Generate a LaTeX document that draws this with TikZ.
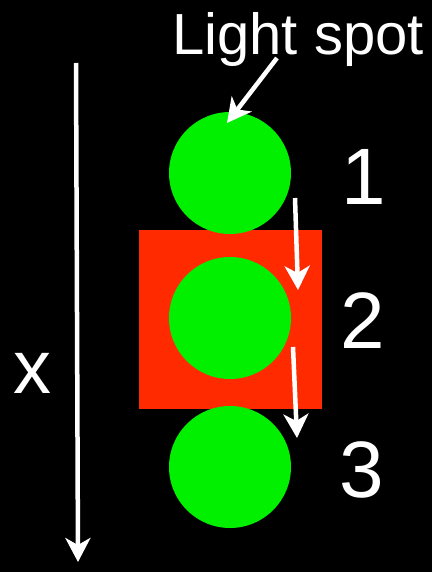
\documentclass[tikz,border=0pt]{standalone}
\usepackage{fontspec}
\setmainfont{Liberation Sans}
\usepackage{tikz}
\usetikzlibrary{arrows.meta, positioning}

\definecolor{spotgreen}{RGB}{0,240,0}
\definecolor{bandred}{RGB}{255,42,0}

\tikzset{
  spot/.style={circle, fill=spotgreen, minimum size=122pt, inner sep=0pt},
  band/.style={rectangle, fill=bandred, minimum width=183pt,
               minimum height=179pt, inner sep=0pt},
  whitearrow/.style={draw=white, line width=4.5pt,
               -{Stealth[length=24pt, width=25pt, inset=7pt]}},
  lbl/.style={text=white, inner sep=0pt, anchor=base}
}

\begin{document}
\begin{tikzpicture}[x=1pt, y=-1pt]
          \fill[black] (0,0) rectangle (432,572);
          \useasboundingbox (0,0) rectangle (432,572);
          \node[band] (bar) at (230.5,319.5) {};
          \node[spot] (s1) at (230,173) {};
          \node[spot] (s2) at (230,318) {};
          \node[spot] (s3) at (230,467) {};
          \node[lbl, font=\fontsize{58}{60}\selectfont] (title) at (298,55) {Light spot};
          \node[lbl, font=\fontsize{80}{82}\selectfont] (n1) at (363.5,204) {1};
          \node[lbl, font=\fontsize{80}{82}\selectfont] (n2) at (363,348) {2};
          \node[lbl, font=\fontsize{80}{82}\selectfont] (n3) at (362,497) {3};
          \node[lbl, font=\fontsize{76}{78}\selectfont] (xl) at (32,393) {x};
          % arrow ends
          \coordinate (ta) at (277,58);
          \coordinate (tb) at (227,123);
          \coordinate (xa) at (76,63);
          \coordinate (xb) at (78,562);
          \coordinate (m1a) at (295,198);
          \coordinate (m1b) at (298,290);
          \coordinate (m2a) at (293,347);
          \coordinate (m2b) at (297,438);
          \draw[whitearrow] (ta) -- (tb);
          \draw[whitearrow] (xa) -- (xb);
          \draw[whitearrow] (m1a) -- (m1b);
          \draw[whitearrow] (m2a) -- (m2b);
        \end{tikzpicture}
\end{document}
